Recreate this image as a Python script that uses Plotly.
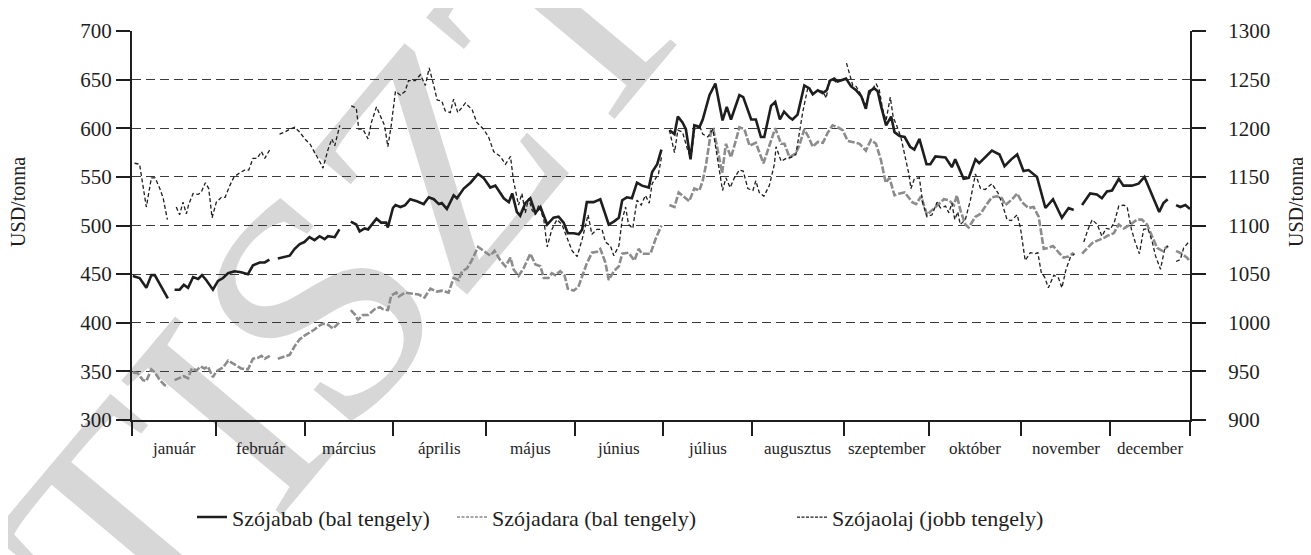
import plotly.graph_objects as go

# ---------------- data ----------------
months = ["január", "február", "március", "április", "május", "június",
          "július", "augusztus", "szeptember", "október", "november", "december"]
month_trading_days = [20, 21, 21, 22, 21, 21, 21, 22, 20, 22, 21, 19]

left_ticks = [300, 350, 400, 450, 500, 550, 600, 650, 700]
right_ticks = [900, 950, 1000, 1050, 1100, 1150, 1200, 1250, 1300]

# Szójabab (USD/tonna, bal tengely); None = missing quotes
soy_days = [0.2, 1.8, 3.4, 4.6, 5.4, 7.0, 8.5, 9.3,
            10.1, 11.3, 12.3, 13.3, 14.5, 15.7, 16.6, 17.6, 19.2, 20.4, 21.6, 22.8, 24.3, 25.9, 27.5,
            28.7, 30.3, 31.5, 32.6, 33.6,
            34.6, 36.2, 37.4, 38.6, 39.8, 40.9, 42.1, 43.3, 44.5, 45.7, 46.5, 48.1, 49.2, 50.5,
            51.9, 53.2, 54.0, 55.2, 56.0, 58.0, 59.1, 60.3, 60.7, 61.9, 62.5, 63.7, 64.8, 66.0, 67.6,
            69.2, 70.4, 71.6, 72.8, 73.5, 74.7, 76.3, 77.1, 78.7, 80.3, 82.1, 83.4, 85.0, 86.2, 88.2,
            89.4, 90.2, 91.3, 92.1, 93.3, 94.5, 95.7, 96.9, 98.5, 100.0, 101.2, 102.4, 103.4, 104.8,
            106.0, 106.8, 107.9, 109.5, 111.1, 113.1, 114.3, 115.5, 116.3, 117.4, 118.6, 119.8, 121.0,
            122.6, 123.4, 124.6, 125.6, 126.5,
            127.5, 128.7, 129.5, 130.6, 131.4, 132.5, 133.4, 134.6, 135.4, 137.0, 138.4, 140.1, 141.1,
            142.1, 144.1, 145.0, 146.9, 148.0, 149.2, 150.0, 151.6, 152.6, 153.7, 154.7, 156.0, 156.7,
            157.9, 159.5, 160.7, 161.5, 162.7, 163.9, 164.8, 165.6, 166.6, 167.4, 169.4, 170.6, 171.8,
            173.0, 174.1, 174.9, 176.1, 176.9, 177.7, 178.9, 180.1, 180.9, 182.1, 183.3, 184.6, 185.6,
            186.8, 187.4, 188.5, 189.4, 190.6, 193.0, 194.5, 195.3, 197.3, 198.5, 200.1, 201.0, 202.4,
            204.0, 205.8, 207.0, 208.6, 210.0, 211.5, 212.7, 214.7, 216.7, 218.5, 220.6, 222.2, 223.4,
            224.4,
            225.4, 227.3, 228.9, 230.1, 231.3, 232.5, 234.1, 235.2, 237.2, 238.8, 240.2, 241.9, 243.7,
            244.7, 245.7, 246.7,
            247.7, 248.7, 249.9, 251.0]
soy_vals = [448, 446, 436, 449, 449, 436, 425, None,
            434, 434, 439, 436, 447, 445, 449, 444, 434, 443, 446, 451, 453, 452, 450,
            459, 462, 462, 465, None,
            466, 468, 469, 476, 481, 483, 488, 485, 489, 486, 489, 488, 496, None,
            504, 501, 494, 497, 496, 507, 503, 503, 498, 518, 521, 519, 521, 527, 525,
            522, 529, 527, 522, 523, 517, 531, 528, 538, 544, 553, 549, 539, 541, 528,
            524, 533, 514, 510, 523, 528, 513, 519, 501, 508, 509, 503, 492, 492,
            491, 496, 524, 524, 527, 501, 504, 508, 526, 529, 528, 544, 541,
            539, 555, 563, 578, None,
            598, 594, 612, 606, 599, 568, 603, 601, 609, 634, 646, 608, 622,
            609, 634, 632, 609, 609, 591, 591, 623, 627, 609, 617, 611, 609,
            614, 644, 641, 635, 639, 636, 639, 649, 651, 648, 651, 643, 639,
            633, 620, 638, 641, 638, 623, 603, 612, 596, 592, 591, 581, 578,
            589, 579, 563, 563, 571, 570, 560, 568, 548, 549, 568, 564, 570,
            577, 573, 561, 568, 573, 556, 557, 550, 518, 527, 508, 518, 516,
            None,
            521, 533, 532, 528, 535, 536, 548, 541, 541, 543, 550, 533, 514,
            523, 527, None,
            521, 519, 521, 517]

# Szójadara (USD/tonna, bal tengely)
meal_days = [0.2, 1.4, 2.6, 3.4, 4.6, 5.4, 6.6, 7.7, 8.5, 9.3,
             10.1, 11.3, 12.3, 13.3, 14.2, 15.3, 16.3, 17.2, 18.0, 19.2, 20.0, 21.6, 22.8, 24.4, 25.9,
             27.5, 28.7, 29.9, 30.7, 31.5, 32.7, 33.6,
             34.6, 36.2, 37.4, 38.6, 39.8, 41.0, 42.2, 43.3, 44.1, 45.3, 46.5, 47.7, 49.3, 50.5,
             51.9, 52.8, 53.6, 54.8, 56.0, 57.6, 58.8, 59.5, 60.7, 61.5, 62.7, 63.3, 64.8, 66.4, 68.0,
             69.4, 70.8, 72.4, 73.5, 75.1, 76.3, 77.5, 78.3, 79.5, 80.6, 82.1, 83.4, 85.0, 86.0, 87.4,
             88.6, 89.8, 90.5, 91.7, 92.9, 94.5, 95.7, 96.9, 97.7, 98.8, 99.6, 100.4, 101.6, 102.6,
             103.4, 104.8, 105.9, 106.7, 107.9, 109.1, 110.3, 111.1, 112.3, 113.1, 114.3, 115.5, 116.3,
             117.8, 119.2, 120.2, 121.0, 123.0, 124.2, 125.6, 126.5,
             127.5, 128.7, 129.7, 131.0, 132.2, 133.4, 134.6, 135.4, 136.2, 137.4, 137.9, 138.9, 140.0,
             140.9, 142.1, 143.3, 144.1, 145.3, 146.5, 148.0, 149.8, 151.2, 152.6, 154.0, 154.8, 156.0,
             157.4, 158.3, 159.5, 160.5, 161.5, 162.7, 163.9, 165.0, 166.2, 167.4, 168.6, 169.8, 171.4,
             172.6, 174.1, 175.3, 176.5, 177.7, 178.8, 179.7, 180.9, 182.1, 183.3, 184.3, 185.1, 186.0,
             187.2, 188.6, 189.8, 191.4, 192.6, 193.8, 195.0, 195.7, 196.5, 197.7, 198.5, 200.1, 201.3,
             202.8, 204.0, 205.2, 206.4, 207.2, 208.8, 210.0, 211.1, 212.7, 213.9, 215.1, 216.3, 217.3,
             218.5, 219.9, 221.0, 222.2, 223.4, 224.4,
             225.4, 226.6, 227.8, 229.3, 230.5, 231.7, 232.9, 234.1, 235.3, 236.9, 238.4, 239.6, 240.8,
             242.0, 243.2, 244.4, 245.8, 246.7,
             247.7, 249.0, 250.3, 251.0]
meal_vals = [349, 348, 341, 340, 352, 349, 341, 336, 334, None,
             341, 343, 345, 343, 353, 351, 355, 353, 355, 344, 350, 354, 361, 357, 353,
             352, 363, 364, 366, 363, 366, None,
             363, 365, 367, 376, 383, 387, 390, 393, 396, 399, 398, 394, 401, None,
             413, 409, 403, 408, 408, 414, 416, 414, 413, 428, 431, 427, 431, 430, 429,
             426, 435, 432, 433, 431, 446, 444, 453, 456, 464, 478, 474, 469, 474, 464,
             458, 467, 455, 448, 456, 471, 460, 458, 446, 446, 451, 449, 453, 449,
             435, 433, 437, 446, 461, 472, 473, 476, 462, 444, 453, 458, 471,
             472, 464, 476, 471, 471, 486, 500, None,
             521, 519, 534, 529, 525, 538, 536, 546, 563, 598, 599, 579, 554,
             584, 570, 588, 601, 599, 582, 585, 564, 582, 600, 584, 584, 570,
             574, 582, 599, 591, 581, 586, 585, 595, 603, 601, 598, 587, 585,
             584, 577, 588, 584, 567, 544, 549, 531, 533, 534, 529, 524, 522,
             530, 511, 516, 522, 527, 526, 521, 531, 516, 501, 498, 509, 512,
             522, 529, 530, 528, 521, 527, 533, 524, 518, 519, 509, 476, 477,
             479, 472, 467, 468, 472, None,
             471, 476, 482, 485, 487, 490, 492, 501, 497, 501, 506, 506, 501,
             489, 477, 474, 479, None,
             474, 471, 467, 463]

# Szójaolaj (USD/tonna, jobb tengely)
oil_days = [0.6, 1.8, 3.4, 4.6, 5.5, 6.6, 7.4, 8.4, 9.4,
            10.5, 11.3, 12.1, 12.9, 13.4, 14.5, 15.7, 16.4, 17.4, 18.2, 19.0, 20.0, 21.2, 22.1, 23.2,
            24.2, 25.5, 26.7, 27.7, 28.7, 29.7, 30.7, 31.5, 32.7, 33.8,
            35.0, 36.2, 37.4, 38.6, 39.8, 41.0, 42.2, 43.3, 44.5, 45.3, 46.5, 47.4, 48.1, 49.3, 50.6,
            52.0, 53.2, 53.8, 54.8, 56.0, 56.8, 58.0, 59.2, 59.9, 60.7, 61.5, 62.5, 63.7, 64.8, 65.6,
            67.2, 68.4, 69.6, 70.5, 71.6, 72.4, 73.5, 74.3, 75.5, 76.3, 77.3, 79.1, 80.7, 81.8, 83.4,
            84.6, 85.8, 87.4, 88.6, 89.8, 90.5, 91.7, 92.5, 93.3, 94.1, 94.9, 95.7, 96.5, 97.7, 98.5,
            99.6, 100.8, 102.0, 103.2, 104.4, 105.6, 106.8, 108.2, 109.1, 110.3, 111.5, 112.3, 113.5,
            114.3, 115.5, 116.3, 117.1, 117.8, 118.8, 119.8, 120.8, 121.8, 122.7, 123.4, 124.9, 125.6,
            126.5,
            127.5, 128.7, 129.5, 130.6, 131.8, 132.6, 133.6, 134.6, 135.4, 136.6, 137.8, 138.9, 140.1,
            140.9, 141.9, 142.9, 144.1, 145.0, 146.1, 147.3, 148.0, 148.8, 149.9, 151.2, 152.4, 152.8,
            154.0, 155.2, 156.3, 157.5, 158.3, 159.1, 160.3, 161.5, 162.7, 163.9, 164.7, 165.4, 166.6,
            167.4, 168.5,
            169.5, 171.0, 171.8, 172.9, 174.0, 175.3, 176.5, 177.3, 178.1, 178.9, 179.9, 180.6, 181.4,
            182.4, 183.5, 184.3, 184.8, 185.6, 186.8, 187.6, 188.6, 189.8, 191.0, 191.8, 193.0, 193.8,
            194.5, 195.2, 195.9, 196.5, 197.7, 198.9, 200.1, 201.3, 202.4, 204.0, 205.5, 206.4, 207.6,
            208.6, 210.0, 210.8, 211.9, 213.1, 214.3, 214.9, 215.7, 216.5, 217.4, 218.7, 219.8, 220.6,
            221.6, 222.6, 223.6, 224.6,
            225.8, 226.8, 227.8, 229.0, 230.1, 231.1, 232.1, 233.1, 234.1, 235.3, 236.1, 237.1, 238.0,
            239.0, 240.0, 241.0, 242.0, 242.8, 244.0, 245.0, 245.8, 246.7,
            247.7, 248.7, 249.5, 250.7]
oil_vals = [1164, 1163, 1119, 1149, 1149, 1138, 1128, 1106, None,
            1119, 1111, 1124, 1112, 1121, 1133, 1132, 1134, 1144, 1138, 1108, 1124, 1129, 1129, 1141,
            1150, 1154, 1157, 1157, 1169, 1169, 1176, 1169, 1178, None,
            1194, 1196, 1199, 1201, 1196, 1189, 1184, 1176, 1166, 1159, 1178, 1189, 1182, 1203, None,
            1223, 1221, 1199, 1199, 1189, 1206, 1222, 1211, 1203, 1181, 1203, 1238, 1234, 1238, 1249,
            1249, 1255, 1244, 1262, 1244, 1229, 1228, 1218, 1216, 1230, 1216, 1226, 1219, 1206, 1199,
            1191, 1176, 1171, 1163, 1171, 1146, 1121, 1133, 1113, 1128, 1116, 1111, 1121, 1106, 1078,
            1096, 1106, 1101, 1088, 1074, 1068, 1086, 1111, 1091, 1096, 1096, 1083, 1079,
            1069, 1079, 1106, 1119, 1101, 1097, 1126, 1121, 1131, 1123, 1143, 1153, 1170,
            None,
            1198, 1175, 1198, 1196, 1178, 1169, 1203, 1203, 1194, 1191, 1199, 1169, 1136,
            1149, 1139, 1149, 1157, 1156, 1138, 1136, 1146, 1134, 1130, 1141, 1163, 1181,
            1166, 1169, 1170, 1173, 1193, 1216, 1241, 1235, 1239, 1238, 1231, 1249, 1249,
            1246, None,
            1267, 1244, 1243, 1235, 1224, 1238, 1246, 1239, 1219, 1208, 1232, 1211, 1203,
            1191, 1169, 1153, 1138, 1148, 1149, 1123, 1109, 1111, 1124, 1118, 1120, 1113,
            1123, 1106, 1114, 1101, 1106, 1126, 1153, 1138, 1137, 1143, 1133, 1123, 1106,
            1105, 1111, 1097, 1064, 1072, 1071, 1072, 1052, 1047, 1036, 1049, 1046, 1036,
            1055, 1067, 1071, None,
            1083, 1096, 1106, 1101, 1089, 1097, 1096, 1104, 1120, 1121, 1119, 1096, 1083,
            1071, 1096, 1097, 1084, 1069, 1055, 1076, 1079, None,
            1063, 1065, 1077, 1083]

# ---------------- derived positions ----------------
month_edges = [0]
for n in month_trading_days:
    month_edges.append(month_edges[-1] + n)
month_mids = [(a + b) / 2 for a, b in zip(month_edges[:-1], month_edges[1:])]

SERIF = "Liberation Serif"
INK = "#1e1e1e"
MEAL_GREY = "#8c8c8c"

fig = go.Figure()

# data lines (legend symbols are drawn by separate legend-only entries below)
fig.add_trace(go.Scatter(
    x=soy_days, y=soy_vals, mode="lines", name="Szójabab (bal tengely)",
    line=dict(color=INK, width=2.6), connectgaps=False, legend="legend"))
fig.add_trace(go.Scatter(
    x=meal_days, y=meal_vals, mode="lines", name="Szójadara (bal tengely)", showlegend=False,
    line=dict(color=MEAL_GREY, width=2.6, dash="7px,2px"), connectgaps=False))
fig.add_trace(go.Scatter(
    x=oil_days, y=oil_vals, mode="lines", name="Szójaolaj (jobb tengely)", yaxis="y2",
    showlegend=False, line=dict(color=INK, width=1.3, dash="4px,2.5px"), connectgaps=False))
# legend keys (thin short dashes as in the original key)
fig.add_trace(go.Scatter(
    x=[None], y=[None], mode="lines", name="Szójadara (bal tengely)", legend="legend2",
    line=dict(color=MEAL_GREY, width=1.4, dash="3px,1.5px")))
fig.add_trace(go.Scatter(
    x=[None], y=[None], mode="lines", name="Szójaolaj (jobb tengely)", legend="legend3",
    yaxis="y2", line=dict(color=INK, width=1.2, dash="3px,1.5px")))

annotations = []
for m, xm in zip(months, month_mids):
    annotations.append(dict(x=xm, y=-0.072, xref="x", yref="paper", text=m, showarrow=False,
                            xanchor="center", yanchor="middle",
                            font=dict(family=SERIF, size=17, color=INK)))
annotations.append(dict(x=-0.108, y=0.56, xref="paper", yref="paper", text="USD/tonna",
                        showarrow=False, textangle=-90, xanchor="center", yanchor="middle",
                        font=dict(family=SERIF, size=20, color=INK)))
annotations.append(dict(x=1.1, y=0.56, xref="paper", yref="paper", text="USD/tonna",
                        showarrow=False, textangle=-90, xanchor="center", yanchor="middle",
                        font=dict(family=SERIF, size=20, color=INK)))

# watermark (light grey, behind the data)
shapes = [dict(type="line", xref="paper", yref="paper", layer="below",
               x0=0.568, y0=2.171, x1=1.168, y1=3.191,
               line=dict(color="rgba(0,0,0,0)", width=0),
               label=dict(text="TISZTELETPÉLDÁNY", textposition="middle", textangle=-50,
                          xanchor="center", yanchor="middle", padding=0,
                          font=dict(family=SERIF, size=320, color="#d7d7d7")))]

legend_common = dict(orientation="h", xanchor="left", yanchor="middle", y=-0.25,
                     bgcolor="rgba(0,0,0,0)", font=dict(family=SERIF, size=22, color=INK),
                     itemwidth=30)

# the page body adds an 8 px offset, so the figure is 8 px smaller and margins are shifted
fig.update_layout(
    width=1303, height=547,
    margin=dict(l=124, r=121, t=11, b=135),
    paper_bgcolor="white", plot_bgcolor="white",
    showlegend=True,
    legend=dict(x=(192 - 132) / 1058, **legend_common),
    legend2=dict(x=(452 - 132) / 1058, **legend_common),
    legend3=dict(x=(792 - 132) / 1058, **legend_common),
    annotations=annotations,
    shapes=shapes,
    xaxis=dict(range=[month_edges[0], month_edges[-1]], tickvals=month_edges,
               ticktext=["" for _ in month_edges], ticks="outside", ticklen=14, tickwidth=2,
               tickcolor=INK, showline=True, linecolor=INK, linewidth=2, showgrid=False,
               zeroline=False),
    yaxis=dict(range=[300, 700], tickvals=left_ticks, ticks="outside", ticklen=14, tickwidth=2,
               tickcolor=INK, showline=True, linecolor=INK, linewidth=2, showgrid=True,
               gridcolor="#3a3a3a", gridwidth=1, griddash="9px,5px", zeroline=False,
               ticklabeloverflow="allow",
               tickfont=dict(family=SERIF, size=21, color=INK)),
    yaxis2=dict(range=[900, 1300], tickvals=right_ticks, overlaying="y", side="right",
                ticks="outside", ticklen=14, tickwidth=2, tickcolor=INK, showline=True,
                linecolor=INK, linewidth=2, showgrid=False, zeroline=False,
                ticklabeloverflow="allow", ticklabelstandoff=18,
                tickfont=dict(family=SERIF, size=21, color=INK)),
)

fig.write_html("out.html")
